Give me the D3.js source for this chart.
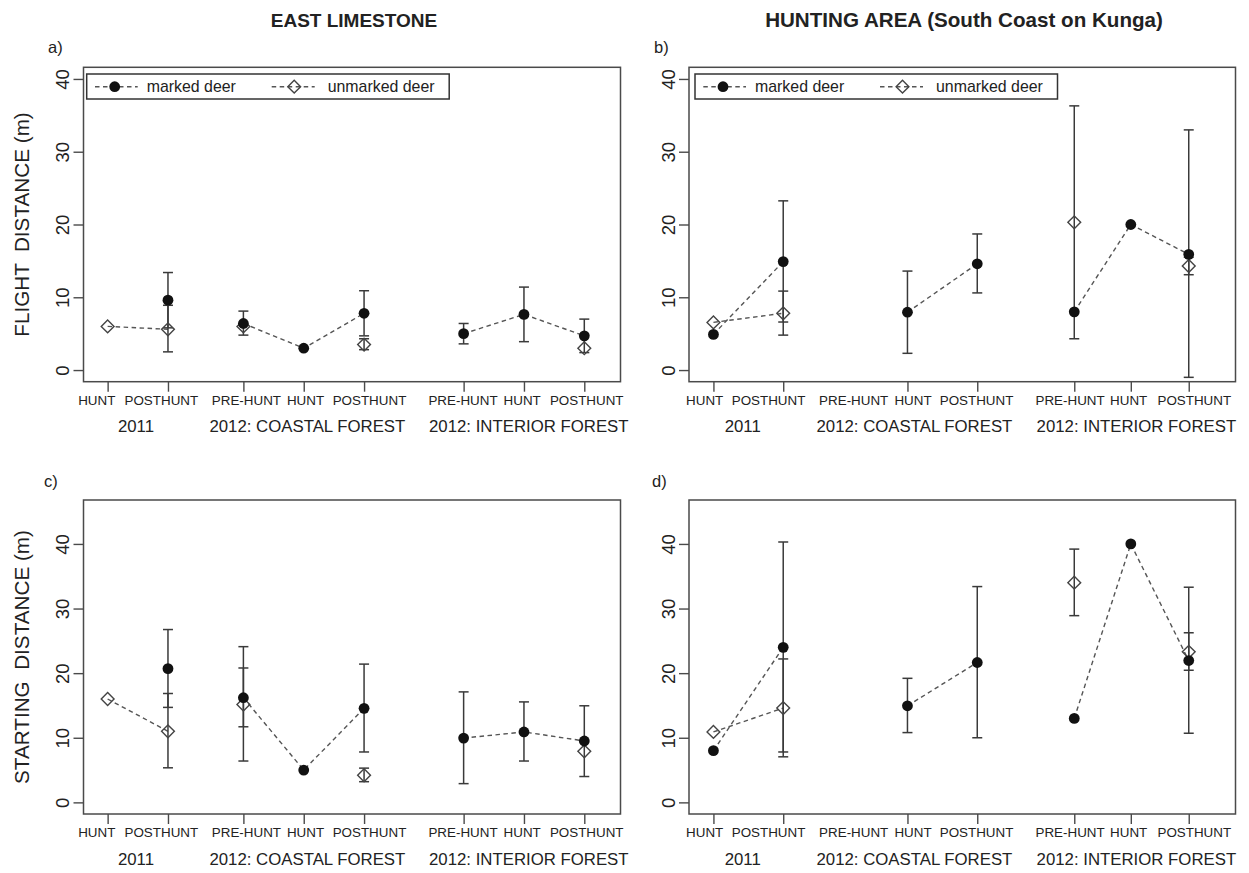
<!DOCTYPE html>
<html><head><meta charset="utf-8">
<script src="https://cdn.jsdelivr.net/npm/d3@7"></script>
<style>
body{margin:0;background:#fff}
svg{display:block}
text{font-family:"Liberation Sans",Arial,Helvetica,sans-serif;fill:#222}
</style>
</head><body>
<svg id="chart" width="1249" height="873"></svg>
<script>
// ---------- data ----------
const conditions = ["HUNT","POSTHUNT","PRE-HUNT","HUNT","POSTHUNT","PRE-HUNT","HUNT","POSTHUNT"];
const groups = ["2011","2012: COASTAL FOREST","2012: INTERIOR FOREST"];
const groupOf = [0,0,1,1,1,2,2,2];
const yTicks = [0,10,20,30,40];
const seriesNames = ["marked deer","unmarked deer"];
const titles = ["EAST LIMESTONE","HUNTING AREA (South Coast on Kunga)"];
const yTitles = ["FLIGHT  DISTANCE (m)","STARTING  DISTANCE (m)"];

// category positions on the x axis (x units)
const xAtLeft  = [1,2,3.25,4.25,5.25,6.9,7.9,8.9];
const xAtRight = [1,2,3,3.78,4.78,6.17,6.98,7.81];
const labelAtLeft  = [0.82,1.89,3.3,4.28,5.34,6.89,7.87,8.94];
const labelAtRight = [0.875,1.79,3.01,3.86,4.77,6.11,6.95,7.89];
const groupAtLeft  = [1.47,4.31,7.98];
const groupAtRight = [1.42,3.88,7.06];

// a) flight distance, East Limestone
const markedA     = [null,9.6,6.4,3.0,7.8,5.0,7.65,4.7];
const markedALo   = [null,5.8,4.8,null,4.7,3.6,3.9,2.4];
const markedAHi   = [null,13.4,8.1,null,10.9,6.4,11.4,7.0];
const unmarkedA   = [6.0,5.6,6.0,null,3.5,null,null,3.0];
const unmarkedALo = [null,2.5,null,null,2.8,null,null,null];
const unmarkedAHi = [null,8.9,null,null,4.3,null,null,null];
// b) flight distance, hunting area
const markedB     = [4.9,14.9,null,7.95,14.6,8.0,20.0,15.9];
const markedBLo   = [null,6.6,null,2.3,10.6,null,null,-1.0];
const markedBHi   = [null,23.25,null,13.6,18.7,null,null,33.0];
const unmarkedB   = [6.55,7.8,null,null,null,20.3,null,14.3];
const unmarkedBLo = [null,4.8,null,null,null,4.3,null,13.1];
const unmarkedBHi = [null,10.85,null,null,null,36.3,null,15.5];
// c) starting distance, East Limestone
const markedC     = [null,20.7,16.2,5.0,14.55,9.95,10.9,9.5];
const markedCLo   = [null,14.7,11.7,null,7.8,2.9,6.4,4.0];
const markedCHi   = [null,26.75,20.8,null,21.4,17.1,15.55,14.95];
const unmarkedC   = [16.0,11.0,15.15,null,4.2,null,null,7.9];
const unmarkedCLo = [null,5.35,6.4,null,3.2,null,null,null];
const unmarkedCHi = [null,16.85,24.1,null,5.3,null,null,null];
// d) starting distance, hunting area
const markedD     = [8.0,24.0,null,14.95,21.65,13.0,40.0,21.95];
const markedDLo   = [null,7.8,null,10.8,10.0,null,null,10.7];
const markedDHi   = [null,40.3,null,19.2,33.4,null,null,33.3];
const unmarkedD   = [10.9,14.6,null,null,null,34.0,null,23.3];
const unmarkedDLo = [null,7.05,null,null,null,28.9,null,20.45];
const unmarkedDHi = [null,22.2,null,null,null,39.2,null,26.25];

// ---------- layout ----------
const svg = d3.select("#chart");
const panels = [
  {tag:"a)", side:0, row:0, x0:83.5, x1:620.5,  y0:67.3, y1:381.7, ymax:40, legendX:86.7,
   m:[markedA,markedALo,markedAHi], u:[unmarkedA,unmarkedALo,unmarkedAHi], tagX:48, tagY:53},
  {tag:"b)", side:1, row:0, x0:689,  x1:1235.5, y0:67.3, y1:381.7, ymax:40, legendX:695,
   m:[markedB,markedBLo,markedBHi], u:[unmarkedB,unmarkedBLo,unmarkedBHi], tagX:654, tagY:53},
  {tag:"c)", side:0, row:1, x0:83.5, x1:620.5,  y0:500,  y1:814,   ymax:45, legendX:null,
   m:[markedC,markedCLo,markedCHi], u:[unmarkedC,unmarkedCLo,unmarkedCHi], tagX:44, tagY:487},
  {tag:"d)", side:1, row:1, x0:689,  x1:1235.5, y0:500,  y1:814,   ymax:45, legendX:null,
   m:[markedD,markedDLo,markedDHi], u:[unmarkedD,unmarkedDLo,unmarkedDHi], tagX:652, tagY:487}
];
const xDomains = [[0.6,9.5],[0.65,8.48]];
const xAts = [xAtLeft,xAtRight], labelAts=[labelAtLeft,labelAtRight], groupAts=[groupAtLeft,groupAtRight];

const boxCol="#4a4a4a", barCol="#3a3a3a", dashCol="#555";
const diamond = d3.symbol(d3.symbolSquare, 82);

function drawDiamond(g,x,y){
  g.append("path").attr("d",diamond())
   .attr("transform",`translate(${x},${y}) rotate(45)`)
   .attr("fill","none").attr("stroke","#444").attr("stroke-width",1.4);
}
function drawCircle(g,x,y){
  g.append("circle").attr("cx",x).attr("cy",y).attr("r",5.4).attr("fill","#111");
}

// titles
svg.append("text").attr("x",354).attr("y",26.7).attr("text-anchor","middle")
  .attr("font-weight","bold").attr("font-size",19).text(titles[0]);
svg.append("text").attr("x",964).attr("y",26.7).attr("text-anchor","middle")
  .attr("font-weight","bold").attr("font-size",20.6).text(titles[1]);

panels.forEach(p=>{
  const g = svg.append("g");
  const x = d3.scaleLinear().domain(xDomains[p.side]).range([p.x0,p.x1]);
  const ext = p.ymax*0.04;
  const y = d3.scaleLinear().domain([-ext,p.ymax+ext]).range([p.y1,p.y0]);
  const xAt = xAts[p.side];

  // box
  g.append("rect").attr("x",p.x0).attr("y",p.y0).attr("width",p.x1-p.x0).attr("height",p.y1-p.y0)
   .attr("fill","none").attr("stroke",boxCol).attr("stroke-width",1.5);

  // y axis
  const yAxis = g.append("g").attr("transform",`translate(${p.x0},0)`)
    .call(d3.axisLeft(y).tickValues(yTicks).tickSize(10).tickFormat(d3.format("d")));
  yAxis.select(".domain").remove();
  yAxis.selectAll(".tick line").attr("stroke",boxCol).attr("stroke-width",1.4);
  yAxis.selectAll(".tick text").attr("font-size",18.5).attr("fill","#222")
    .attr("font-family","'Liberation Sans',Arial,sans-serif")
    .attr("x",null).attr("dy",null).attr("text-anchor","middle")
    .attr("transform","translate(-14.5,0) rotate(-90)");

  // x axis ticks at categories with data
  const hasData = conditions.map((c,i)=> p.m[0][i]!=null || p.u[0][i]!=null);
  const tickVals = xAt.filter((v,i)=>hasData[i]);
  const xAxis = g.append("g").attr("transform",`translate(0,${p.y1})`)
    .call(d3.axisBottom(x).tickValues(tickVals).tickSize(10).tickFormat(""));
  xAxis.select(".domain").remove();
  xAxis.selectAll(".tick line").attr("stroke",boxCol).attr("stroke-width",1.4);

  // condition labels
  g.selectAll("text.cond").data(conditions).enter().append("text").attr("class","cond")
    .attr("x",(d,i)=>x(labelAts[p.side][i])).attr("y",p.y1+22.8)
    .attr("text-anchor","middle").attr("font-size",13.4).text(d=>d);
  // group labels
  g.selectAll("text.grp").data(groups).enter().append("text").attr("class","grp")
    .attr("x",(d,i)=>x(groupAts[p.side][i])).attr("y",p.y1+50.6)
    .attr("text-anchor","middle").attr("font-size",16.8).text(d=>d);

  // panel tag
  g.append("text").attr("x",p.tagX).attr("y",p.tagY).attr("font-size",16.5).text(p.tag);

  // y title (left column only)
  if(p.side===0){
    g.append("text").attr("xml:space","preserve").style("white-space","pre")
     .attr("transform",`translate(29,${(p.y0+p.y1)/2}) rotate(-90)`)
     .attr("text-anchor","middle").attr("font-size",20.7).text(yTitles[p.row]);
  }

  const series=[p.u,p.m];
  // dashed connecting lines within each group, broken where a value is missing
  series.forEach(s=>{
    groups.forEach((gr,gi)=>{
      const idx = conditions.map((c,i)=>i).filter(i=>groupOf[i]===gi);
      g.append("path")
       .attr("d",d3.line().defined(i=>s[0][i]!=null).x(i=>x(xAt[i])).y(i=>y(s[0][i]))(idx) || "")
       .attr("fill","none").attr("stroke",dashCol).attr("stroke-width",1.4)
       .attr("stroke-dasharray","4.5,3.5");
    });
  });
  // error bars
  series.forEach(s=>{
    conditions.forEach((c,i)=>{
      if(s[1][i]==null||s[2][i]==null) return;
      const cx=x(xAt[i]), ylo=y(s[1][i]), yhi=y(s[2][i]);
      g.append("line").attr("x1",cx).attr("x2",cx).attr("y1",ylo).attr("y2",yhi)
       .attr("stroke",barCol).attr("stroke-width",1.5);
      [ylo,yhi].forEach(yy=>g.append("line").attr("x1",cx-5).attr("x2",cx+5).attr("y1",yy).attr("y2",yy)
       .attr("stroke",barCol).attr("stroke-width",1.5));
    });
  });
  // points
  conditions.forEach((c,i)=>{ if(p.u[0][i]!=null) drawDiamond(g,x(xAt[i]),y(p.u[0][i])); });
  conditions.forEach((c,i)=>{ if(p.m[0][i]!=null) drawCircle(g,x(xAt[i]),y(p.m[0][i])); });

  // legend
  if(p.legendX!=null){
    const lx=p.legendX, ly=74, cy=86.7;
    const lg=g.append("g");
    lg.append("rect").attr("x",lx).attr("y",ly).attr("width",362.5).attr("height",25)
      .attr("fill","#fff").attr("stroke","#333").attr("stroke-width",1.5);
    [[8.3,51,28,60],[185,228,207.5,241]].forEach((it,k)=>{
      lg.append("line").attr("x1",lx+it[0]).attr("x2",lx+it[1]).attr("y1",cy).attr("y2",cy)
        .attr("stroke",dashCol).attr("stroke-width",1.4).attr("stroke-dasharray","4.5,3.5");
      if(k===0) drawCircle(lg,lx+it[2],cy); else drawDiamond(lg,lx+it[2],cy);
      lg.append("text").attr("x",lx+it[3]).attr("y",91.5).attr("font-size",15.9).text(seriesNames[k]);
    });
  }
});
</script>
</body></html>
